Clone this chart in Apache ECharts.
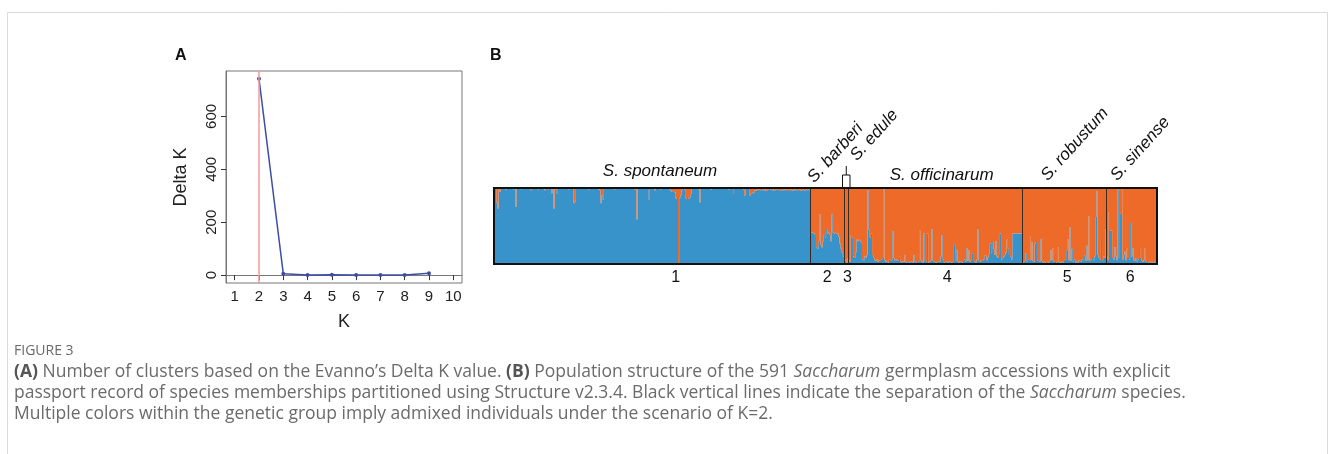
<!DOCTYPE html>
<html>
<head>
<meta charset="utf-8">
<title>Figure 3</title>
<script src="https://cdn.jsdelivr.net/npm/echarts@6/dist/echarts.min.js"></script>
<style>
  html, body { margin: 0; padding: 0; background: #fff; }
  #main { width: 1335px; height: 454px; }
</style>
</head>
<body>
<div id="main"></div>
<script>
// A: Evanno delta K
const kValues = [2, 3, 4, 5, 6, 7, 8, 9]
const deltaK = [742, 5, 1, 1.5, 0.5, 0.5, 0.5, 7]
const kTicks = [1, 2, 3, 4, 5, 6, 7, 8, 9, 10]
const deltaTicks = [0, 200, 400, 600]

// B: share of cluster 1 (blue) per accession, in percent
const spontaneum = [
  99,100,81,73,98,95,100,100,99,100,98,100,100,100,99,100,100,98,100,75,
  100,99,100,100,98,100,100,100,99,100,100,100,98,96,100,100,99,100,100,98,
  100,100,99,100,100,97,100,100,98,100,99,93,100,73,100,98,92,100,100,99,
  100,100,100,99,100,100,98,100,100,99,100,80,82,100,100,100,99,100,100,100,
  99,100,100,100,98,100,100,100,100,99,100,100,100,98,97,80,90,85,99,100,
  100,100,99,100,100,100,100,98,100,100,100,99,100,100,100,100,100,99,100,100,
  100,99,100,100,100,98,100,59,100,100,100,100,99,100,100,100,100,99,85,100,
  100,100,99,97,100,100,100,100,98,100,100,100,100,99,100,100,98,97,95,96,
  96,94,86,88,0,86,90,97,99,100,98,86,88,86,87,92,100,100,100,99,
  100,100,98,81,100,100,100,100,99,100,100,100,100,98,100,100,100,100,99,100,
  100,100,100,100,99,100,100,100,100,98,100,100,100,92,100,100,100,99,100,100,
  100,100,98,90,100,100,99,100,90,93,94,93,97,96,98,97,98,97,96,98,
  97,98,96,97,98,99,98,97,98,96,97,98,99,97,98,97,96,98,97,98,
  97,98,96,97,98,97,96,98,97,98,96,97,98,96,97,98,97,96,98,97,
  98,97
]
const barberi = [
  42,41,42,40,38,22,20,30,65,25,22,30,38,35,46,40,41,38,30,65,
  41,40,41,40,40,36,27,20,15,10
]
const edule = [3, 6, 2, 8]
const officinarum = [
  5,3,38,35,10,8,15,32,30,32,31,28,6,4,10,8,12,97,45,35,
  40,12,8,5,4,6,3,5,4,6,8,99,5,3,4,2,6,4,5,43,
  8,5,6,4,5,10,3,2,4,3,12,2,1,3,2,4,3,2,12,3,
  2,4,3,44,5,3,2,40,4,3,40,2,3,5,46,4,3,2,2,3,
  4,3,10,38,6,2,1,3,2,4,3,2,1,3,26,4,18,3,2,4,
  3,2,4,6,3,21,4,18,3,5,14,4,3,2,6,46,4,3,5,4,
  6,11,11,5,8,12,27,15,29,20,12,30,10,8,12,40,6,8,10,12,
  15,32,20,12,10,6,40,40,40,40,40,40,40,40,40
]
const robustum = [
  2,3,4,14,3,6,36,5,29,4,3,27,29,5,4,3,33,4,2,3,
  2,1,3,2,4,18,5,21,3,4,2,22,3,2,1,3,2,4,6,18,
  33,5,48,4,20,3,6,2,3,2,5,4,3,6,4,11,4,24,5,63,
  4,6,8,5,10,62,96,12,8,6,33,5,10,8,45
]
const sinense = [
  10,5,68,44,44,8,6,22,10,5,98,8,66,98,6,12,16,5,20,8,
  6,54,10,21,5,4,8,3,6,21,8,4,3,5,21,3,4,2,3,2,
  3,2,2,3,2
]
const speciesNames = ['S. spontaneum', 'S. barberi', 'S. edule', 'S. officinarum', 'S. robustum', 'S. sinense']
const groupNumbers = ['1', '2', '3', '4', '5', '6']

const groups = [spontaneum, barberi, edule, officinarum, robustum, sinense]
const blue = [].concat(...groups)
const orange = blue.map(v => 100 - v)
const cats = blue.map((v, i) => i + 1)
const total = blue.length
const bounds = []
let acc = 0
groups.forEach(g => { acc += g.length; bounds.push(acc) })

const BLUE = '#3993cb'
const ORANGE = '#ee6a28'

const chart = echarts.init(document.getElementById('main'))

const option = {
  animation: false,
  backgroundColor: '#fff',
  textStyle: { fontFamily: 'Liberation Sans, Arial, sans-serif' },
  grid: [
    { left: 226, top: 71, width: 236, height: 212, show: true, borderColor: '#777', borderWidth: 1 },
    { left: 494, top: 188, width: 663, height: 76 }
  ],
  xAxis: [
    {
      type: 'value', gridIndex: 0, min: 0.64, max: 10.36,
      axisLine: { show: true, lineStyle: { color: '#777' } },
      axisTick: { show: true, customValues: kTicks, length: 5, lineStyle: { color: '#333' } },
      axisLabel: { customValues: kTicks, fontSize: 15, color: '#222', margin: 6 },
      splitLine: { show: false },
      name: 'K', nameLocation: 'middle', nameGap: 30,
      nameTextStyle: { fontSize: 18, color: '#222' }
    },
    { type: 'category', gridIndex: 1, data: cats, show: false, boundaryGap: true },
    { type: 'value', gridIndex: 1, min: 0, max: total, show: false }
  ],
  yAxis: [
    {
      type: 'value', gridIndex: 0, min: -29.7, max: 771.7,
      axisLine: { show: true, lineStyle: { color: '#777' } },
      axisTick: { show: true, customValues: deltaTicks, length: 5, lineStyle: { color: '#333' } },
      axisLabel: { customValues: deltaTicks, fontSize: 15, color: '#222', rotate: 90, margin: 7 },
      splitLine: { show: false },
      name: 'Delta K', nameLocation: 'middle', nameGap: 36, nameRotate: 90,
      nameTextStyle: { fontSize: 18, color: '#222' }
    },
    { type: 'value', gridIndex: 1, min: 0, max: 100, show: false }
  ],
  series: [
    {
      type: 'line', xAxisIndex: 0, yAxisIndex: 0,
      data: kValues.map((k, i) => [k, deltaK[i]]),
      symbol: 'circle', symbolSize: 4,
      lineStyle: { color: '#3d4ea3', width: 1.5 },
      itemStyle: { color: '#3d4ea3' },
      markLine: {
        silent: true, symbol: 'none', label: { show: false },
        lineStyle: { color: '#f29a9e', width: 1.5, type: 'solid' },
        data: [{ xAxis: 2 }]
      }
    },
    {
      type: 'bar', xAxisIndex: 1, yAxisIndex: 1, stack: 'q',
      data: blue, barWidth: '100%', large: true, largeThreshold: 100,
      itemStyle: { color: BLUE }
    },
    {
      type: 'bar', xAxisIndex: 1, yAxisIndex: 1, stack: 'q',
      data: orange, barWidth: '100%', large: true, largeThreshold: 100,
      itemStyle: { color: ORANGE }
    },
    {
      type: 'lines', coordinateSystem: 'cartesian2d', xAxisIndex: 2, yAxisIndex: 1,
      data: bounds.slice(0, bounds.length - 1).map(b => ({ coords: [[b, 0], [b, 100]] })),
      lineStyle: { color: '#3a2a22', width: 1, opacity: 1 },
      silent: true, z: 3
    }
  ]
}

chart.setOption(option)

function px(v, y) {
  return chart.convertToPixel({ seriesIndex: 3 }, [v, y])
}

function buildGraphic() {
  const g = []
  const lt = px(0, 100)
  const rb = px(total, 0)
  const top = lt[1]
  const bottom = rb[1]

  // figure frame
  g.push({ type: 'rect', shape: { x: 7.5, y: 12.5, width: 1320, height: 470 }, style: { fill: 'none', stroke: '#dadada', lineWidth: 1 }, silent: true })

  // panel letters
  g.push({ type: 'text', x: 175, y: 56, style: { text: 'A', font: 'bold 16px Liberation Sans', fill: '#111', verticalAlign: 'middle' } })
  g.push({ type: 'text', x: 490, y: 56, style: { text: 'B', font: 'bold 16px Liberation Sans', fill: '#111', verticalAlign: 'middle' } })

  // frame of the structure plot
  g.push({ type: 'rect', z: 10, shape: { x: lt[0], y: top, width: rb[0] - lt[0], height: bottom - top }, style: { fill: 'none', stroke: '#111', lineWidth: 2 } })

  // group numbers under the plot
  const numberAt = [162, 297, 315, 404, 511, 567]
  groupNumbers.forEach((t, i) => {
    g.push({ type: 'text', x: px(numberAt[i], 0)[0], y: bottom + 14, style: { text: t, font: '16px Liberation Sans', fill: '#111', align: 'center', verticalAlign: 'middle' } })
  })

  // species names above
  const flat = { 0: [148, -17], 3: [399, -13] }
  const slanted = { 1: [288, -2], 2: [326, -24], 4: [496, -4], 5: [558, -4] }
  Object.keys(flat).forEach(k => {
    const p = flat[k]
    g.push({ type: 'text', x: px(p[0], 0)[0], y: top + p[1], style: { text: speciesNames[k], font: 'italic 17px Liberation Sans', fill: '#111', align: 'center', verticalAlign: 'middle' } })
  })
  Object.keys(slanted).forEach(k => {
    const p = slanted[k]
    g.push({ type: 'text', x: px(p[0], 0)[0], y: top + p[1], rotation: 48 * Math.PI / 180, style: { text: speciesNames[k], font: 'italic 17px Liberation Sans', fill: '#111', align: 'left', verticalAlign: 'bottom' } })
  })

  // small fork pointing at S. edule
  const e0 = px(bounds[1], 0)[0] - 1.5
  const e1 = px(bounds[2], 0)[0] + 1.5
  const em = (e0 + e1) / 2
  g.push({ type: 'polyline', shape: { points: [[e0, top - 1], [e0, top - 13], [e1, top - 13], [e1, top - 1]] }, style: { stroke: '#111', lineWidth: 1, fill: 'none' } })
  g.push({ type: 'line', shape: { x1: em, y1: top - 13, x2: em, y2: top - 22 }, style: { stroke: '#111', lineWidth: 1 } })

  // caption
  const capFont = '17.5px "Open Sans"'
  const capColor = '#6b6b6b'
  g.push({ type: 'text', x: 14, y: 351, style: { text: 'FIGURE 3', font: '14px "Open Sans"', fill: '#6a6a6a', verticalAlign: 'middle' } })
  const rich = {
    b: { fontFamily: 'Open Sans', fontSize: 17.5, fontWeight: 'bold', fill: '#555' },
    i: { fontFamily: 'Open Sans', fontSize: 17.5, fontStyle: 'italic', fill: capColor }
  }
  const lines = [
    '{b|(A)} Number of clusters based on the Evanno\u2019s Delta K value. {b|(B)} Population structure of the 591 {i|Saccharum} germplasm accessions with explicit',
    'passport record of species memberships partitioned using Structure v2.3.4. Black vertical lines indicate the separation of the {i|Saccharum} species.',
    'Multiple colors within the genetic group imply admixed individuals under the scenario of K=2.'
  ]
  lines.forEach((t, i) => {
    g.push({ type: 'text', x: 14, y: 372 + i * 21, style: { text: t, font: capFont, fill: capColor, verticalAlign: 'middle', rich: rich } })
  })
  return g
}

chart.setOption({ graphic: buildGraphic() })

window.addEventListener('resize', () => {
  chart.resize()
})
</script>
</body>
</html>
